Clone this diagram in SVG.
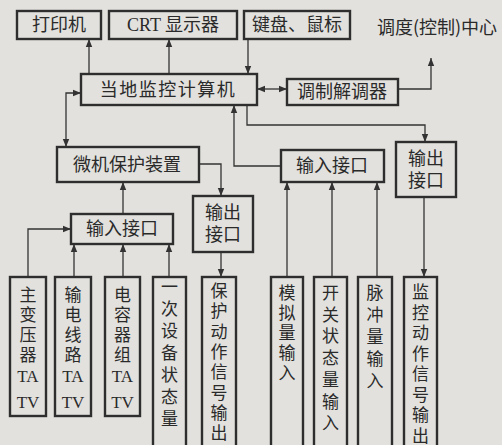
<svg xmlns="http://www.w3.org/2000/svg" width="502" height="445" viewBox="0 0 502 445">
<defs>
<style>
.box{fill:#e2e1dd;stroke:#2e2e2e;stroke-width:2.4}
.t{font-family:"Noto Sans CJK SC","Liberation Serif",serif;font-size:18px;fill:#2a2a2a;text-anchor:middle}
.v{font-family:"Noto Sans CJK SC","Liberation Serif",serif;font-size:17px;fill:#2a2a2a;text-anchor:middle}
.c{fill:none;stroke:#333;stroke-width:1.3}
</style>
<marker id="a" viewBox="0 0 10 10" refX="10" refY="5" markerWidth="8" markerHeight="8" markerUnits="userSpaceOnUse" orient="auto-start-reverse">
<path d="M0,1 L10,5 L0,9 z" fill="#333"/>
</marker>
</defs>
<rect width="502" height="445" fill="#e2e1dd"/>
<g id="connectors">
<path class="c" d="M89,74 V39" marker-end="url(#a)"/>
<path class="c" d="M169,74 V39" marker-end="url(#a)"/>
<path class="c" d="M248,39 V74" marker-end="url(#a)"/>
<path class="c" d="M257,89 H287" marker-start="url(#a)" marker-end="url(#a)"/>
<path class="c" d="M398,89 H431 V58" marker-end="url(#a)"/>
<path class="c" d="M247,105 V125 H425 V142" marker-end="url(#a)"/>
<path class="c" d="M281,166 H234 V105" marker-end="url(#a)"/>
<path class="c" d="M81,93 H66 V147" marker-start="url(#a)" marker-end="url(#a)"/>
<path class="c" d="M199,164 H221 V196" marker-end="url(#a)"/>
<path class="c" d="M123,214 V182" marker-end="url(#a)"/>
<path class="c" d="M28,277 V229 H71" marker-end="url(#a)"/>
<path class="c" d="M74,277 V244" marker-end="url(#a)"/>
<path class="c" d="M123,277 V244" marker-end="url(#a)"/>
<path class="c" d="M169,277 V244" marker-end="url(#a)"/>
<path class="c" d="M221,252 V277" marker-end="url(#a)"/>
<path class="c" d="M287,277 V182" marker-end="url(#a)"/>
<path class="c" d="M332,277 V182" marker-end="url(#a)"/>
<path class="c" d="M377,277 V182" marker-end="url(#a)"/>
<path class="c" d="M424,197 V277" marker-end="url(#a)"/>
</g>
<g id="printer"><rect class="box" x="17" y="11" width="84" height="28"/><text class="t" x="59" y="31">打印机</text></g>
<g id="crt"><rect class="box" x="109" y="11" width="128" height="28"/><text class="t" x="173" y="31"><tspan font-family="Liberation Serif">CRT</tspan> 显示器</text></g>
<g id="keyboard"><rect class="box" x="244" y="11" width="106" height="28"/><text class="t" x="297" y="31">键盘、鼠标</text></g>
<g id="center"><text class="t" x="437" y="34" font-size="18.5">调度(控制)中心</text></g>
<g id="computer"><rect class="box" x="81" y="74" width="176" height="31"/><text class="t" x="168" y="96" letter-spacing="1.5">当地监控计算机</text></g>
<g id="modem"><rect class="box" x="287" y="79" width="111" height="26"/><text class="t" x="342" y="98">调制解调器</text></g>
<g id="protection"><rect class="box" x="57" y="147" width="142" height="35"/><text class="t" x="127" y="171">微机保护装置</text></g>
<g id="input-right"><rect class="box" x="281" y="150" width="103" height="32"/><text class="t" x="332" y="172">输入接口</text></g>
<g id="output-right"><rect class="box" x="396" y="142" width="60" height="55"/><text class="t" x="426" y="165">输出</text><text class="t" x="426" y="187">接口</text></g>
<g id="output-left"><rect class="box" x="193" y="196" width="60" height="56"/><text class="t" x="223" y="219">输出</text><text class="t" x="223" y="241">接口</text></g>
<g id="input-left"><rect class="box" x="71" y="214" width="102" height="30"/><text class="t" x="122" y="235">输入接口</text></g>
<g id="b1"><rect class="box" x="10" y="277" width="36" height="139"/><text class="v" x="28" y="301"><tspan x="28">主</tspan><tspan x="28" dy="20">变</tspan><tspan x="28" dy="20">压</tspan><tspan x="28" dy="20">器</tspan><tspan x="28" dy="21" font-family="Liberation Serif">TA</tspan><tspan x="28" dy="26" font-family="Liberation Serif">TV</tspan></text></g>
<g id="b2"><rect class="box" x="55" y="277" width="36" height="139"/><text class="v" x="73" y="301"><tspan x="73">输</tspan><tspan x="73" dy="20">电</tspan><tspan x="73" dy="20">线</tspan><tspan x="73" dy="20">路</tspan><tspan x="73" dy="21" font-family="Liberation Serif">TA</tspan><tspan x="73" dy="26" font-family="Liberation Serif">TV</tspan></text></g>
<g id="b3"><rect class="box" x="105" y="277" width="35" height="139"/><text class="v" x="122.5" y="301"><tspan x="122.5">电</tspan><tspan x="122.5" dy="20">容</tspan><tspan x="122.5" dy="20">器</tspan><tspan x="122.5" dy="20">组</tspan><tspan x="122.5" dy="21" font-family="Liberation Serif">TA</tspan><tspan x="122.5" dy="26" font-family="Liberation Serif">TV</tspan></text></g>
<g id="b4"><rect class="box" x="153" y="277" width="33" height="175"/><text class="v" x="169.5" y="293"><tspan x="169.5">一</tspan><tspan x="169.5" dy="22">次</tspan><tspan x="169.5" dy="22">设</tspan><tspan x="169.5" dy="22">备</tspan><tspan x="169.5" dy="22">状</tspan><tspan x="169.5" dy="22">态</tspan><tspan x="169.5" dy="22">量</tspan></text></g>
<g id="b5"><rect class="box" x="202" y="277" width="34" height="175"/><text class="v" x="219" y="297"><tspan x="219">保</tspan><tspan x="219" dy="20.3">护</tspan><tspan x="219" dy="20.3">动</tspan><tspan x="219" dy="20.3">作</tspan><tspan x="219" dy="20.3">信</tspan><tspan x="219" dy="20.3">号</tspan><tspan x="219" dy="20.3">输</tspan><tspan x="219" dy="20.3">出</tspan></text></g>
<g id="b6"><rect class="box" x="271" y="277" width="32" height="175"/><text class="v" x="287" y="299"><tspan x="287">模</tspan><tspan x="287" dy="20">拟</tspan><tspan x="287" dy="20">量</tspan><tspan x="287" dy="20">输</tspan><tspan x="287" dy="20">入</tspan></text></g>
<g id="b7"><rect class="box" x="314" y="277" width="33" height="175"/><text class="v" x="330.5" y="299"><tspan x="330.5">开</tspan><tspan x="330.5" dy="21.7">关</tspan><tspan x="330.5" dy="21.7">状</tspan><tspan x="330.5" dy="21.7">态</tspan><tspan x="330.5" dy="21.7">量</tspan><tspan x="330.5" dy="21.7">输</tspan><tspan x="330.5" dy="21.7">入</tspan></text></g>
<g id="b8"><rect class="box" x="358" y="277" width="34" height="175"/><text class="v" x="375" y="299"><tspan x="375">脉</tspan><tspan x="375" dy="22">冲</tspan><tspan x="375" dy="22">量</tspan><tspan x="375" dy="22">输</tspan><tspan x="375" dy="22">入</tspan></text></g>
<g id="b9"><rect class="box" x="404" y="277" width="33" height="175"/><text class="v" x="420.5" y="298"><tspan x="420.5">监</tspan><tspan x="420.5" dy="20.5">控</tspan><tspan x="420.5" dy="20.5">动</tspan><tspan x="420.5" dy="20.5">作</tspan><tspan x="420.5" dy="20.5">信</tspan><tspan x="420.5" dy="20.5">号</tspan><tspan x="420.5" dy="20.5">输</tspan><tspan x="420.5" dy="20.5">出</tspan></text></g>
</svg>
